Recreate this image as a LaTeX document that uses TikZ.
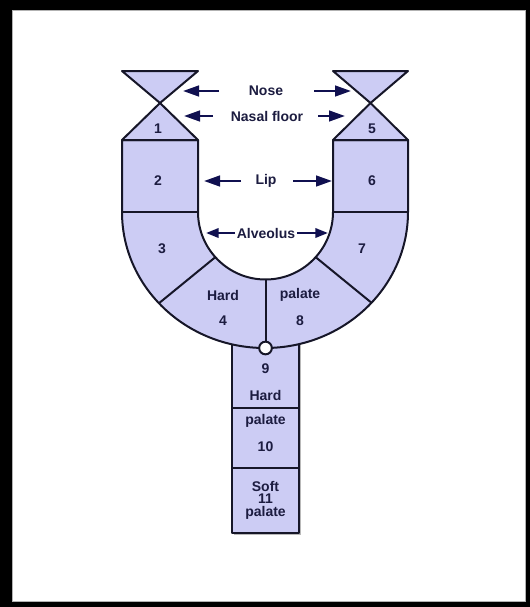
\documentclass[tikz,border=0pt]{standalone}
\usepackage{fontspec}
\setmainfont{Liberation Sans}
\usetikzlibrary{arrows.meta}
\definecolor{pal}{RGB}{204,204,244}
\definecolor{ink}{RGB}{22,22,40}
\definecolor{txt}{RGB}{28,28,64}
\definecolor{arrowc}{RGB}{16,16,80}
\tikzset{
  part/.style={fill=pal, draw=ink, line width=1.5pt, line join=round},
  divider/.style={draw=ink, line width=1.5pt},
  lbl/.style={text=txt, font=\bfseries\fontsize{10.5}{11}\selectfont, inner sep=0pt},
  pointer/.style={draw=arrowc, line width=1.8pt,
    -{Triangle[length=12pt,width=8pt]}},
  spointer/.style={draw=arrowc, line width=1.8pt,
    -{Triangle[length=9.5pt,width=7pt]}}
}
\begin{document}
\begin{tikzpicture}[x=0.75pt, y=-0.75pt]
  % frame
  \fill[black] (0,0) rectangle (530,607);
  \fill[white] (12,10) rectangle (525,601);
  \draw[gray!60, line width=0.6pt] (12,10) rectangle (525,601);
  \useasboundingbox (0,0) rectangle (530,607);

  % stem (hard and soft palate, segments 9-11)
  \fill[gray!55] (234,335) rectangle (301,535);
  \path[part] (232,330) rectangle (299,533);
  \draw[divider] (232,408) -- (299,408);
  \draw[divider] (232,468) -- (299,468);

  % U-shaped arch (segments 2-4 and 6-8)
  \path[part] (122,140) -- (122,212)
     arc[start angle=180, end angle=0, x radius=143, y radius=136]
     -- (408,140) -- (333,140) -- (333,212)
     arc[start angle=0, end angle=180, radius=67.5]
     -- (198,140) -- cycle;
  \draw[divider] (122,212) -- (198,212);
  \draw[divider] (333,212) -- (408,212);
  \draw[divider, shift={(265.5,212)}] (138:67.5) -- (138:143 and 136);
  \draw[divider, shift={(265.5,212)}] (42:67.5) -- (42:143 and 136);
  \draw[divider] (265.5,279.5) -- (265.5,342);
  \node[circle, draw=ink, fill=white, line width=1.5pt, minimum size=9.5pt,
        inner sep=0pt] (jn) at (265.5,348) {};

  % hourglasses (nose over nasal floor, segments 1 and 5)
  \path[part] (122,71) -- (198,71) -- (160,103) -- cycle;
  \path[part] (160,103) -- (122,140) -- (198,140) -- cycle;
  \path[part] (333,71) -- (408,71) -- (370.5,103) -- cycle;
  \path[part] (370.5,103) -- (333,140) -- (408,140) -- cycle;

  % segment labels
  \node[lbl] (n1) at (158,129) {1};
  \node[lbl] (n5) at (372,129) {5};
  \node[lbl] (n2) at (158,181) {2};
  \node[lbl] (n6) at (372,181) {6};
  \node[lbl] (n3) at (162,249) {3};
  \node[lbl] (n7) at (362,249) {7};
  \node[lbl] (hard1) at (223,295) {Hard};
  \node[lbl] (n4) at (223,321) {4};
  \node[lbl] (pal1) at (300,295) {palate};
  \node[lbl] (n8) at (300,321) {8};
  \node[lbl] (n9) at (265.5,369) {9};
  \node[lbl] (hard2) at (265.5,395) {Hard};
  \node[lbl] (pal2) at (265.5,421) {palate};
  \node[lbl] (n10) at (265.5,447) {10};
  \node[lbl] (soft) at (265.5,486) {Soft};
  \node[lbl] (n11) at (265.5,499) {11};
  \node[lbl] (pal3) at (265.5,513) {palate};

  % structure labels and their pointers
  \node[lbl] (nose) at (266,91) {Nose};
  \node[lbl] (nasal) at (267,116) {Nasal floor};
  \node[lbl] (lip) at (266,181) {Lip};
  \node[lbl] (alv) at (266,233) {Alveolus};

  \coordinate (noseLt) at (219,91);  \coordinate (noseLh) at (183,91);
  \coordinate (noseRt) at (314,91);  \coordinate (noseRh) at (351,91);
  \coordinate (nasLt) at (213,116);  \coordinate (nasLh) at (184,116);
  \coordinate (nasRt) at (318,116);  \coordinate (nasRh) at (345,116);
  \coordinate (lipLt) at (241,181);  \coordinate (lipLh) at (204,181);
  \coordinate (lipRt) at (293,181);  \coordinate (lipRh) at (332,181);
  \coordinate (alvLh) at (206,233);
  \coordinate (alvRh) at (328,233);

  \draw[pointer] (noseLt) -- (noseLh);
  \draw[pointer] (noseRt) -- (noseRh);
  \draw[pointer] (nasLt) -- (nasLh);
  \draw[pointer] (nasRt) -- (nasRh);
  \draw[pointer] (lipLt) -- (lipLh);
  \draw[pointer] (lipRt) -- (lipRh);
  \draw[spointer] ([xshift=-1pt]alv.west) -- (alvLh);
  \draw[spointer] ([xshift=1pt]alv.east) -- (alvRh);
\end{tikzpicture}
\end{document}
